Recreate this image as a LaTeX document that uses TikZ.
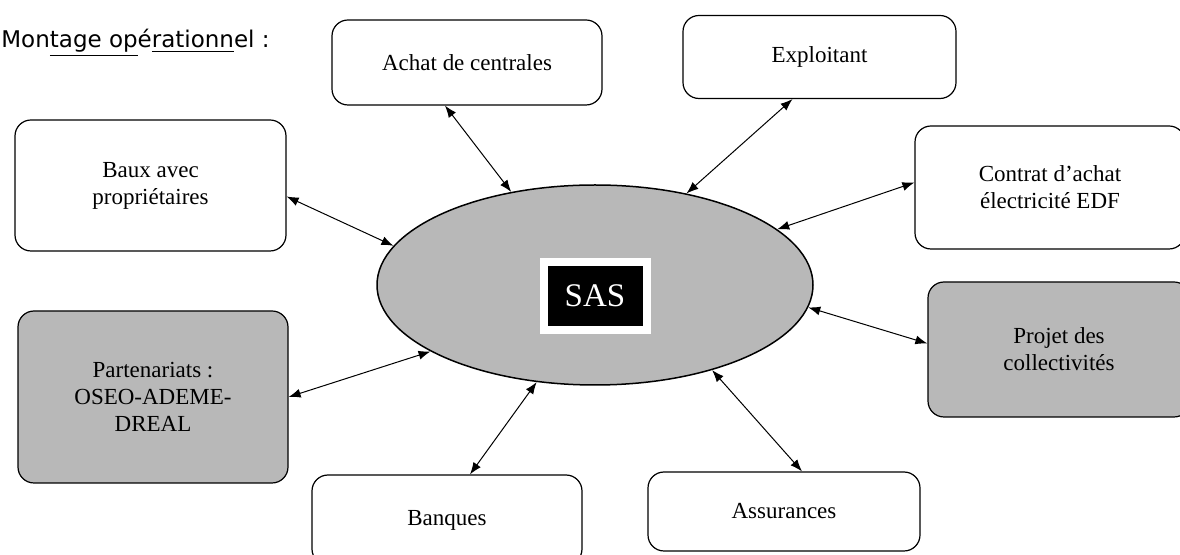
\documentclass[tikz,border=0pt]{standalone}
\usepackage{fontspec}
\setmainfont{Liberation Serif}
\newfontfamily\titlefont{DejaVu Sans}
\usetikzlibrary{arrows.meta}
\usetikzlibrary{shapes.geometric}
\usetikzlibrary{calc}

\begin{document}
\begin{tikzpicture}[x=0.5pt, y=-0.5pt,
	partner/.style={draw, line width=0.6pt, rounded corners=8pt, align=center, inner sep=0pt,
		font=\fontsize{11.5}{13.5}\selectfont},
	shaded/.style={partner, fill=black!28},
	link/.style={{Latex[length=6pt,width=4.5pt]}-{Latex[length=6pt,width=4.5pt]}, line width=0.5pt}]
	\useasboundingbox (0,0) rectangle (1180,555);
	
	\node[anchor=base west, inner sep=0pt, font=\titlefont\fontsize{11.5}{14}\selectfont] (title) at (1,48)
		{Mon\underline{tage op}é\underline{rationn}el :};
	
	\node[ellipse, draw, line width=0.75pt, fill=black!28, minimum width=218pt, minimum height=100pt, inner sep=0pt] (sas) at (595,285) {};
	\node[fill=black, draw=white, line width=4pt, minimum width=51.5pt, minimum height=34pt, text=white,
		font=\fontsize{16.5}{18}\selectfont] (sasbox) at (595,296) {SAS};
	
	\node[partner, minimum width=135pt, minimum height=42.5pt] (achat) at (467,62.5) {Achat de centrales};
	\node[partner, minimum width=136.5pt, minimum height=41.5pt] (expl) at (819.5,57) {Exploitant};
	\node[partner, minimum width=135.5pt, minimum height=65.5pt] (baux) at (150.5,185.5) {Baux avec\\propriétaires};
	\node[partner, minimum width=135pt, minimum height=61.5pt] (contrat) at (1050,187.5) {Contrat d’achat\\électricité EDF};
	\node[shaded, minimum width=135pt, minimum height=86pt] (part) at (153,397) {Partenariats :\\OSEO-ADEME-\\DREAL};
	\node[shaded, minimum width=131pt, minimum height=67.5pt] (projet) at (1059,349.5) {Projet des\\collectivités};
	\node[partner, minimum width=135pt, minimum height=45pt] (banq) at (447,520) {Banques};
	\node[partner, minimum width=136pt, minimum height=39.5pt] (assur) at (784,511.5) {Assurances};
	
	\draw[link] ($(baux.east)+(0,11)$) -- (sas.169);
	\draw[link] ($(achat.south)+(-22,0)$) -- (sas.132);
	\draw[link] ($(expl.south)+(-27,0)$) -- (sas.45);
	\draw[link] ($(contrat.west)+(0,-5)$) -- (sas.17);
	\draw[link] ($(projet.west)+(0,-6)$) -- (sas.-6);
	\draw[link] ($(assur.north)+(18,0)$) -- (sas.-36);
	\draw[link] ($(banq.north)+(23,0)$) -- (sas.-121);
	\draw[link] (part.east) -- (sas.202);
\end{tikzpicture}
\end{document}
